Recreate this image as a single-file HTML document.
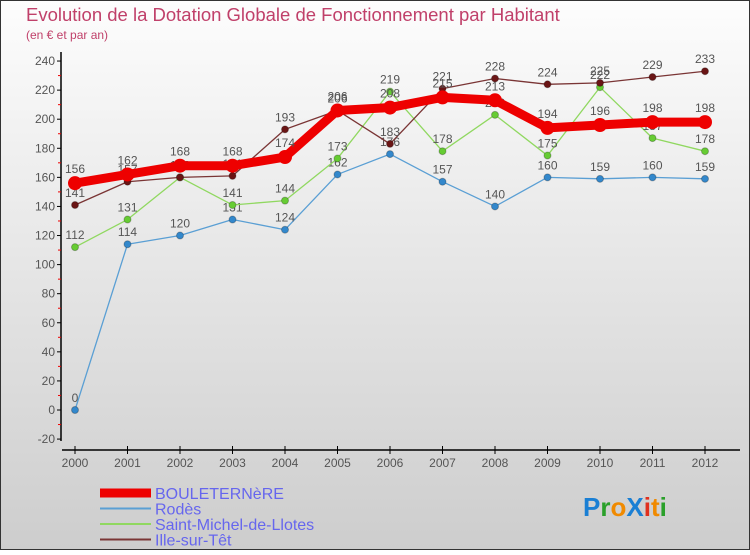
<!DOCTYPE html>
<html><head><meta charset="utf-8"><style>
html,body{margin:0;padding:0;}
body{width:750px;height:550px;overflow:hidden;font-family:"Liberation Sans",sans-serif;}
</style></head><body>
<svg id="chart" width="750" height="550" xmlns="http://www.w3.org/2000/svg" font-family="Liberation Sans, sans-serif">
<defs>
<linearGradient id="bg" x1="0" y1="0" x2="0" y2="1"><stop offset="0" stop-color="#fdfdfd"/><stop offset="1" stop-color="#cdcdcd"/></linearGradient>
</defs>
<rect x="0.5" y="0.5" width="749" height="549" fill="url(#bg)" stroke="#333"/>
<text x="26" y="21" font-size="18.5" fill="#c0406a">Evolution de la Dotation Globale de Fonctionnement par Habitant</text>
<text x="26" y="39" font-size="12" fill="#c0406a">(en € et par an)</text>
<g id="axes"></g>
<g id="series"></g>
<g id="legend"></g>
<text x="583" y="516" font-size="26" font-weight="bold"><tspan fill="#1a7fd4">P</tspan><tspan fill="#2aa02a">r</tspan><tspan fill="#f08a00">o</tspan><tspan fill="#1a7fd4">X</tspan><tspan fill="#e0301e">i</tspan><tspan fill="#f08a00">t</tspan><tspan fill="#2aa02a">i</tspan></text>
</svg>
<script>
const years = [2000,2001,2002,2003,2004,2005,2006,2007,2008,2009,2010,2011,2012];
const yTicks = [-20,0,20,40,60,80,100,120,140,160,180,200,220,240];
const seriesNames = ["BOULETERNèRE","Rodès","Saint-Michel-de-Llotes","Ille-sur-Têt"];
const bouleternere = [156,162,168,168,174,206,208,215,213,194,196,198,198];
const rodes = [0,114,120,131,124,162,176,157,140,160,159,160,159];
const saintMichel = [112,131,160,141,144,173,219,178,203,175,222,187,178];
const illeSurTet = [141,157,160,161,193,206,183,221,228,224,225,229,233];

const NS="http://www.w3.org/2000/svg";
function x(i){return 75+i*52.5;}
function y(v){return 410-v*1.454;}
function mk(tag,attrs,parent){const e=document.createElementNS(NS,tag);for(const k in attrs)e.setAttribute(k,attrs[k]);parent.appendChild(e);return e;}
const axes=document.getElementById('axes');
let l=mk('line',{x1:61,y1:52,x2:61,y2:441,stroke:'#000','stroke-width':1.5},axes);


l=mk('line',{x1:62,y1:450,x2:740,y2:450,stroke:'#000','stroke-width':1.5},axes);


yTicks.forEach((v,i)=>{
  const yy=y(v);
  mk('line',{x1:57,y1:yy,x2:61,y2:yy,stroke:'#000'},axes);
  const t=mk('text',{x:55,y:yy+4,'font-size':12,'text-anchor':'end',fill:'#555'},axes);
  t.textContent=v;
  
  
  if(i<yTicks.length-1){mk('line',{x1:58,y1:y(v+10),x2:61,y2:y(v+10),stroke:'#e00'},axes);}
});
years.forEach((yr,i)=>{
  mk('line',{x1:x(i),y1:446,x2:x(i),y2:454,stroke:'#000'},axes);
  const t=mk('text',{x:x(i),y:467,'font-size':12,'text-anchor':'middle',fill:'#555'},axes);
  t.textContent=yr;
  
  
});
const sg=document.getElementById('series');
const styles=[
 {data:bouleternere,color:'#ee0000',w:9,r:7,dot:'#ee0000',name:'series-bouleternere'},
 {data:rodes,color:'#5a9fd4',w:1.3,r:3.5,dot:'#3388cc',name:'series-rodes'},
 {data:saintMichel,color:'#90d860',w:1.3,r:3.5,dot:'#66cc33',name:'series-saint-michel'},
 {data:illeSurTet,color:'#7a3535',w:1.3,r:3.5,dot:'#6a1515',name:'series-ille-sur-tet'}
];
[1,2,3,0].forEach(si=>{
  const s=styles[si];
  const g=mk('g',{},sg);
  
  
  const pts=s.data.map((v,i)=>x(i)+','+y(v)).join(' ');
  mk('polyline',{points:pts,fill:'none',stroke:s.color,'stroke-width':s.w,'stroke-linejoin':'round'},g);
  s.data.forEach((v,i)=>{
    const c=mk('circle',{cx:x(i),cy:y(v),r:s.r,fill:s.dot,stroke:si==0?'none':'rgba(0,0,0,0.25)'},g);
    
    
    const t=mk('text',{x:x(i),y:y(v)-(si==0?10:8),'font-size':12,'text-anchor':'middle',fill:'#555'},g);
    t.textContent=v;
    
    
  });
});
const lg=document.getElementById('legend');
const lw=[9,2,2,2];
seriesNames.forEach((n,i)=>{
  const g=mk('g',{},lg);
  
  
  const yy=493+i*15.5;
  mk('line',{x1:100,y1:yy,x2:151,y2:yy,stroke:styles[i].color,'stroke-width':lw[i]},g);
  const t=mk('text',{x:155,y:yy+6,'font-size':16,fill:'#6666ee'},g);
  t.textContent=n;
});
</script>
</body></html>
